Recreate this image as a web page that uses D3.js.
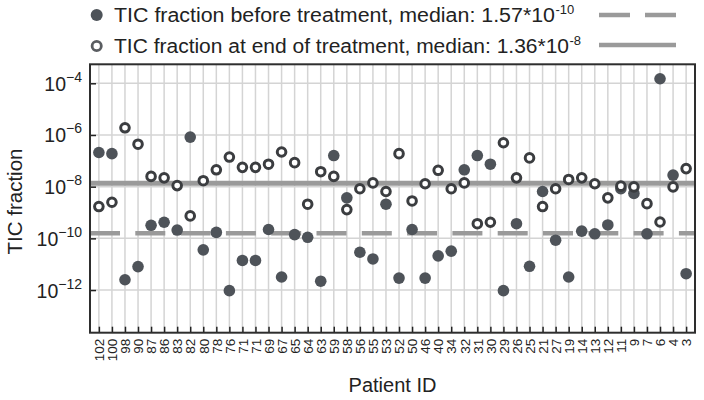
<!DOCTYPE html>
<html><head><meta charset="utf-8">
<script src="https://cdn.jsdelivr.net/npm/d3@7"></script>
<style>body{margin:0;background:#fff;} text{font-family:"Liberation Sans",Arial,sans-serif;fill:#222;}</style>
</head><body><svg id="c" width="704" height="400"></svg>
<script>
const patientIds = ["102","100","98","90","87","86","83","82","80","78","76","71","71","69","67","65","64","63","59","58","56","55","53","52","50","46","40","34","32","31","30","29","26","25","21","27","19","14","13","12","11","9","7","6","4","3"];
const beforeTreatment = [2.1e-7,1.9e-7,2.5e-12,8.1e-12,3.2e-10,4.2e-10,2.1e-10,8.3e-7,3.6e-11,1.7e-10,9.5e-13,1.4e-11,1.4e-11,2.2e-10,3.2e-12,1.4e-10,1.1e-10,2.2e-12,1.6e-7,3.7e-9,2.9e-11,1.6e-11,2.1e-9,2.9e-12,2.2e-10,2.9e-12,2.1e-11,3.2e-11,4.5e-8,1.6e-7,7.4e-8,9.5e-13,3.7e-10,8.3e-12,6.5e-9,8.5e-11,3.2e-12,1.9e-10,1.5e-10,3.3e-10,8.3e-9,5.5e-9,1.5e-10,1.5e-4,2.8e-8,4.3e-12];
const endOfTreatment = [1.7e-9,2.5e-9,1.9e-6,4.4e-7,2.5e-8,2.2e-8,1.1e-8,7.4e-10,1.7e-8,4.5e-8,1.4e-7,5.6e-8,5.6e-8,7.4e-8,2.2e-7,8.5e-8,2.1e-9,3.8e-8,2.5e-8,1.3e-9,8.3e-9,1.4e-8,6.5e-9,1.9e-7,2.8e-9,1.3e-8,4.3e-8,8.3e-9,1.4e-8,3.7e-10,4.2e-10,5.0e-7,2.2e-8,1.3e-7,1.7e-9,8.3e-9,1.9e-8,2.2e-8,1.3e-8,3.7e-9,1.05e-8,9.8e-9,2.2e-9,4.3e-10,9.8e-9,5.0e-8];
const medianBefore = 1.57e-10;
const medianEnd = 1.36e-8;
const yTickExps = [-4,-6,-8,-10,-12];
const legendLabels = ["TIC fraction before treatment, median: 1.57*10", "TIC fraction at end of treatment, median: 1.36*10"];
const legendExps = ["-10", "-8"];

const svg = d3.select("#c");
const L = 90, R = 695, T = 64.3, B = 332.7;
const idx = d3.range(patientIds.length);
const x = d3.scalePoint().domain(idx).range([L, R]).padding(0.68);
const y = d3.scaleLog().domain([Math.pow(10,-13.65), Math.pow(10,-3.265)]).range([B, T]);
const dark = "#4e5359", ring = "#3b3d40", lineCol = "#9a9a9a", grid = "#d4d4d4";

// grid
svg.append("g").selectAll("line").data(idx).join("line")
  .attr("x1", d => x(d)).attr("x2", d => x(d)).attr("y1", T).attr("y2", B)
  .attr("stroke", grid).attr("stroke-width", 1.5);
svg.append("g").selectAll("line").data(yTickExps).join("line")
  .attr("x1", L).attr("x2", R).attr("y1", d => y(Math.pow(10,d))).attr("y2", d => y(Math.pow(10,d)))
  .attr("stroke", grid).attr("stroke-width", 1.5);

// median lines
svg.append("line").attr("x1", L).attr("x2", R).attr("y1", y(medianEnd)).attr("y2", y(medianEnd))
  .attr("stroke", lineCol).attr("stroke-width", 5);
svg.append("line").attr("x1", L).attr("x2", R).attr("y1", y(medianBefore)).attr("y2", y(medianBefore))
  .attr("stroke", lineCol).attr("stroke-width", 4.5).attr("stroke-dasharray", "30,15.3");

// axes (ticks inward)
const xAxis = d3.axisBottom(x).tickSize(-6).tickPadding(9).tickFormat(i => patientIds[i]);
const gx = svg.append("g").attr("transform", `translate(0,${B})`).call(xAxis);
gx.select(".domain").remove();
gx.selectAll(".tick line").attr("stroke", "#222").attr("stroke-width", 1.5);
gx.selectAll(".tick text").attr("transform", "rotate(-90)").attr("text-anchor", "end")
  .attr("x", -6).attr("y", 0).attr("dy", "0.35em").style("font-size", "13.5px").style("font-family", "Liberation Sans, Arial, sans-serif").attr("fill", "#222");

const yAxis = d3.axisLeft(y).tickValues(yTickExps.map(e => Math.pow(10,e))).tickSize(-6).tickFormat("");
const gy = svg.append("g").attr("transform", `translate(${L},0)`).call(yAxis);
gy.select(".domain").remove();
gy.selectAll(".tick line").attr("stroke", "#222").attr("stroke-width", 1.5);
gy.selectAll(".tick").each(function(d) {
  const e = Math.round(Math.log10(d));
  const t = d3.select(this).append("text").attr("x", -8).attr("y", 7).attr("text-anchor", "end")
    .style("font-size", "19.5px").attr("fill", "#222");
  t.append("tspan").text("10");
  t.append("tspan").attr("dy", -9).style("font-size", "14px").text("\u2212" + Math.abs(e));
});

// frame
svg.append("rect").attr("x", L).attr("y", T).attr("width", R - L).attr("height", B - T)
  .attr("fill", "none").attr("stroke", "#2e2e2e").attr("stroke-width", 2);

// points
svg.append("g").selectAll("circle").data(idx).join("circle")
  .attr("cx", d => x(d)).attr("cy", d => y(beforeTreatment[d])).attr("r", 5.8).attr("fill", dark);
svg.append("g").selectAll("circle").data(idx).join("circle")
  .attr("cx", d => x(d)).attr("cy", d => y(endOfTreatment[d])).attr("r", 4.3)
  .attr("fill", "#fff").attr("stroke", ring).attr("stroke-width", 3);

// axis titles
svg.append("text").attr("x", (L + R) / 2).attr("y", 392).attr("text-anchor", "middle")
  .style("font-size", "20px").text("Patient ID");
svg.append("text").attr("transform", `translate(22,${(T + B) / 2 + 3}) rotate(-90)`).attr("text-anchor", "middle")
  .style("font-size", "20.5px").text("TIC fraction");

// legend
const lg = svg.append("g");
lg.append("circle").attr("cx", 96.7).attr("cy", 15).attr("r", 6).attr("fill", dark);
lg.append("circle").attr("cx", 96.7).attr("cy", 46).attr("r", 4.6).attr("fill", "#fff").attr("stroke", "#5a5d61").attr("stroke-width", 2.8);
const legendWidths = [441, 455];
legendLabels.forEach((lab, i) => {
  const yy = i === 0 ? 22 : 53;
  lg.append("text").attr("x", 114).attr("y", yy).style("font-size", "20px")
    .attr("textLength", legendWidths[i]).attr("lengthAdjust", "spacingAndGlyphs").text(lab);
  lg.append("text").attr("x", 114 + legendWidths[i] + 0.5).attr("y", yy - 8.5).style("font-size", "13px")
    .text(legendExps[i]);
});
lg.append("line").attr("x1", 599).attr("x2", 676).attr("y1", 15).attr("y2", 15)
  .attr("stroke", lineCol).attr("stroke-width", 4.5).attr("stroke-dasharray", "31,15");
lg.append("line").attr("x1", 599).attr("x2", 676).attr("y1", 45).attr("y2", 45)
  .attr("stroke", lineCol).attr("stroke-width", 4.5);
</script></body></html>
